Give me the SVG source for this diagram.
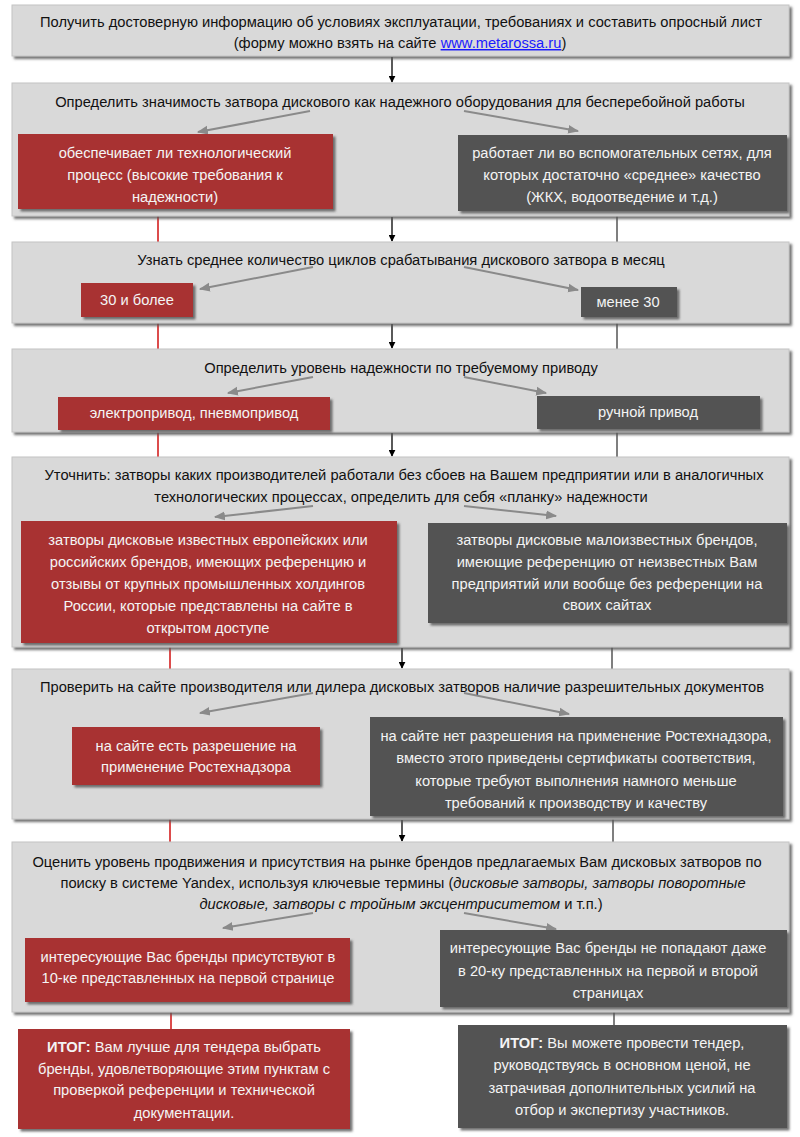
<svg xmlns="http://www.w3.org/2000/svg" width="800" height="1137" viewBox="0 0 800 1137">
<defs>
<filter id="sh" x="-5%" y="-5%" width="110%" height="120%">
<feDropShadow dx="2.5" dy="2.5" stdDeviation="0.8" flood-color="#5a5a5a" flood-opacity="0.85"/>
</filter>
<marker id="ab" viewBox="0 0 10 10" refX="9" refY="5" markerWidth="7" markerHeight="7" orient="auto" markerUnits="userSpaceOnUse">
<path d="M0,0 L10,5 L0,10 z" fill="#000"/>
</marker>
<marker id="ag" viewBox="0 0 10 10" refX="9" refY="5" markerWidth="11" markerHeight="11" orient="auto" markerUnits="userSpaceOnUse">
<path d="M0,1 L10,5 L0,9 z" fill="#8a8a8a"/>
</marker>
</defs>
<style>
.g{fill:#d9d9d9;stroke:#c4c4c4;stroke-width:1;filter:url(#sh)}
.r{fill:#a83230;filter:url(#sh)}
.d{fill:#535353;filter:url(#sh)}
text{font-family:"Liberation Sans",Arial,sans-serif;font-size:14.7px;text-anchor:middle}
.k{fill:#111}
.w{fill:#f4f4f4}
.ga{stroke:#8a8a8a;stroke-width:2;fill:none;marker-end:url(#ag)}
.ba{stroke:#000;stroke-width:1.3;marker-end:url(#ab)}
.rl{stroke:#d01010;stroke-width:1.5}
.dl{stroke:#555;stroke-width:1.5}
</style>
<rect width="800" height="1137" fill="#fff"/>

<g id="connectors">
<line class="ba" x1="392" y1="57" x2="392" y2="82"/>
<line class="ba" x1="392" y1="217" x2="392" y2="241"/>
<line class="ba" x1="392" y1="324" x2="392" y2="348"/>
<line class="ba" x1="392" y1="433" x2="392" y2="456"/>
<line class="ba" x1="402" y1="648" x2="402" y2="668"/>
<line class="ba" x1="402" y1="820" x2="402" y2="841"/>
<line class="rl" x1="158" y1="216" x2="158" y2="242"/>
<line class="rl" x1="158" y1="323" x2="158" y2="349"/>
<line class="rl" x1="158" y1="432" x2="158" y2="457"/>
<line class="rl" x1="170" y1="647" x2="170" y2="669"/>
<line class="rl" x1="170" y1="819" x2="170" y2="842"/>
<line class="rl" x1="171" y1="1012" x2="171" y2="1029"/>
<line class="dl" x1="617" y1="216" x2="617" y2="242"/>
<line class="dl" x1="617" y1="323" x2="617" y2="349"/>
<line class="dl" x1="617" y1="432" x2="617" y2="457"/>
<line class="dl" x1="612" y1="647" x2="612" y2="669"/>
<line class="dl" x1="613" y1="819" x2="613" y2="842"/>
<line class="dl" x1="614" y1="1012" x2="614" y2="1025"/>
</g>

<g id="n1">
<rect class="g" x="12" y="5" width="777" height="51"/>
<text class="k" x="401" y="27">Получить достоверную информацию об условиях эксплуатации, требованиях и составить опросный лист</text>
<text class="k" x="400" y="48">(форму можно взять на сайте <tspan fill="#1a1aff" text-decoration="underline">www.metarossa.ru</tspan>)</text>
</g>

<g id="n2">
<rect class="g" x="12" y="83" width="777" height="133"/>
<text class="k" x="400" y="107">Определить значимость затвора дискового как надежного оборудования для бесперебойной работы</text>
<path class="ga" d="M310,111 L198,132"/>
<path class="ga" d="M464,111 L578,131"/>
</g>
<g id="n2a">
<rect class="r" x="18" y="134" width="315" height="75"/>
<text class="w" x="175" y="158">обеспечивает ли технологический</text>
<text class="w" x="175" y="180">процесс (высокие требования к</text>
<text class="w" x="175" y="202">надежности)</text>
</g>
<g id="n2b">
<rect class="d" x="458" y="135" width="329" height="76"/>
<text class="w" x="622" y="158">работает ли во вспомогательных сетях, для</text>
<text class="w" x="622" y="180">которых достаточно «среднее» качество</text>
<text class="w" x="622" y="202">(ЖКХ, водоотведение и т.д.)</text>
</g>

<g id="n3">
<rect class="g" x="12" y="242" width="777" height="81"/>
<text class="k" x="401" y="265">Узнать среднее количество циклов срабатывания дискового затвора в месяц</text>
<path class="ga" d="M313,267 L200,289"/>
<path class="ga" d="M464,267 L578,290"/>
</g>
<g id="n3a">
<rect class="r" x="81" y="283" width="112" height="34"/>
<text class="w" x="137" y="305">30 и более</text>
</g>
<g id="n3b">
<rect class="d" x="581" y="287" width="96" height="30"/>
<text class="w" x="628" y="307">менее 30</text>
</g>

<g id="n4">
<rect class="g" x="12" y="349" width="777" height="83"/>
<text class="k" x="401" y="373">Определить уровень надежности по требуемому приводу</text>
<path class="ga" d="M313,377 L228,393"/>
<path class="ga" d="M464,377 L546,393"/>
</g>
<g id="n4a">
<rect class="r" x="58" y="397" width="272" height="33"/>
<text class="w" x="194" y="418">электропривод, пневмопривод</text>
</g>
<g id="n4b">
<rect class="d" x="537" y="396" width="223" height="33"/>
<text class="w" x="648" y="417">ручной привод</text>
</g>

<g id="n5">
<rect class="g" x="12" y="457" width="777" height="190"/>
<text class="k" x="404" y="480">Уточнить: затворы каких производителей работали без сбоев на Вашем предприятии или в аналогичных</text>
<text class="k" x="401" y="502">технологических процессах, определить для себя «планку» надежности</text>
<path class="ga" d="M313,506 L215,517"/>
<path class="ga" d="M464,506 L556,516"/>
</g>
<g id="n5a">
<rect class="r" x="21" y="521" width="376" height="122"/>
<text class="w" x="208" y="545">затворы дисковые известных европейских или</text>
<text class="w" x="208" y="567">российских брендов, имеющих референцию и</text>
<text class="w" x="208" y="589">отзывы от крупных промышленных холдингов</text>
<text class="w" x="208" y="611">России, которые представлены на сайте в</text>
<text class="w" x="208" y="633">открытом доступе</text>
</g>
<g id="n5b">
<rect class="d" x="428" y="523" width="359" height="100"/>
<text class="w" x="607" y="545">затворы дисковые малоизвестных брендов,</text>
<text class="w" x="607" y="567">имеющие референцию от неизвестных Вам</text>
<text class="w" x="607" y="589">предприятий или вообще без референции на</text>
<text class="w" x="607" y="610">своих сайтах</text>
</g>

<g id="n6">
<rect class="g" x="12" y="669" width="777" height="150"/>
<text class="k" x="402" y="692">Проверить на сайте производителя или дилера дисковых затворов наличие разрешительных документов</text>
<path class="ga" d="M313,693 L200,713"/>
<path class="ga" d="M464,693 L569,714"/>
</g>
<g id="n6a">
<rect class="r" x="72" y="727" width="248" height="58"/>
<text class="w" x="196" y="751">на сайте есть разрешение на</text>
<text class="w" x="196" y="772">применение Ростехнадзора</text>
</g>
<g id="n6b">
<rect class="d" x="370" y="717" width="413" height="99"/>
<text class="w" x="576" y="741">на сайте нет разрешения на применение Ростехнадзора,</text>
<text class="w" x="576" y="763">вместо этого приведены сертификаты соответствия,</text>
<text class="w" x="576" y="786">которые требуют выполнения намного меньше</text>
<text class="w" x="576" y="808">требований к производству и качеству</text>
</g>

<g id="n7">
<rect class="g" x="12" y="842" width="777" height="170"/>
<text class="k" x="397" y="867">Оценить уровень продвижения и присутствия на рынке брендов предлагаемых Вам дисковых затворов по</text>
<text class="k" x="403" y="888">поиску в системе Yandex, используя ключевые термины (<tspan font-style="italic">дисковые затворы, затворы поворотные</tspan></text>
<text class="k" x="401" y="909"><tspan font-style="italic">дисковые, затворы с тройным эксцентриситетом</tspan> и т.п.)</text>
<path class="ga" d="M313,913 L223,928"/>
<path class="ga" d="M464,913 L556,929"/>
</g>
<g id="n7a">
<rect class="r" x="25" y="938" width="325" height="64"/>
<text class="w" x="188" y="962">интересующие Вас бренды присутствуют в</text>
<text class="w" x="188" y="983">10-ке представленных на первой странице</text>
</g>
<g id="n7b">
<rect class="d" x="440" y="930" width="347" height="77"/>
<text class="w" x="608" y="953">интересующие Вас бренды не попадают даже</text>
<text class="w" x="608" y="976">в 20-ку представленных на первой и второй</text>
<text class="w" x="608" y="998">страницах</text>
</g>

<g id="n8a">
<rect class="r" x="18" y="1029" width="332" height="100"/>
<text class="w" x="184" y="1052"><tspan font-weight="bold">ИТОГ:</tspan> Вам лучше для тендера выбрать</text>
<text class="w" x="184" y="1074">бренды, удовлетворяющие этим пунктам с</text>
<text class="w" x="184" y="1095">проверкой референции и технической</text>
<text class="w" x="184" y="1118">документации.</text>
</g>
<g id="n8b">
<rect class="d" x="458" y="1025" width="329" height="103"/>
<text class="w" x="622" y="1048"><tspan font-weight="bold">ИТОГ:</tspan> Вы можете провести тендер,</text>
<text class="w" x="622" y="1070">руководствуясь в основном ценой, не</text>
<text class="w" x="622" y="1093">затрачивая дополнительных усилий на</text>
<text class="w" x="622" y="1115">отбор и экспертизу участников.</text>
</g>
</svg>
